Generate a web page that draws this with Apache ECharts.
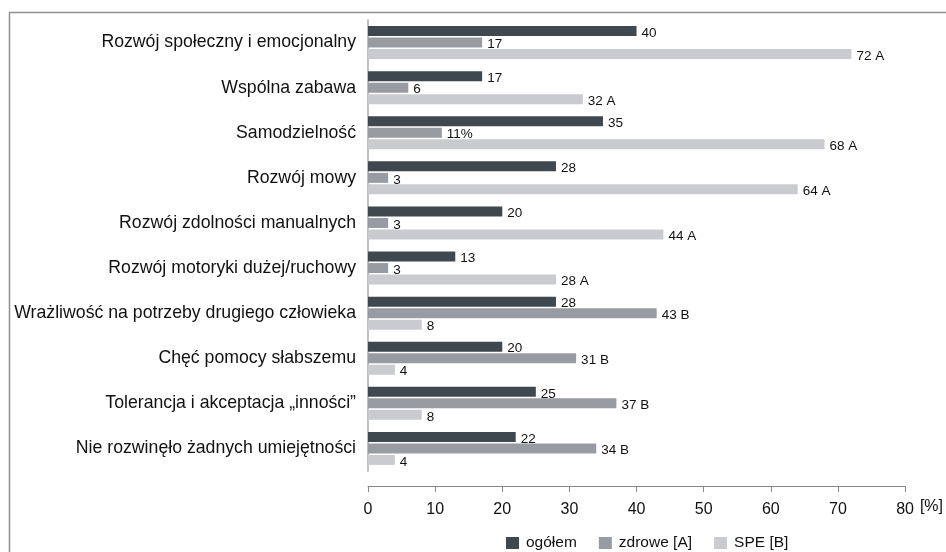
<!DOCTYPE html>
<html>
<head>
<meta charset="utf-8">
<script src="https://cdn.jsdelivr.net/npm/echarts@6/dist/echarts.min.js"></script>
<style>
    html, body { margin: 0; padding: 0; background: #fff; }
    #chart { width: 946px; height: 552px; }
</style>
</head>
<body>
<div id="chart"></div>
<script>
    // dane z wykresu
    const categories = [
        'Rozwój społeczny i emocjonalny',
        'Wspólna zabawa',
        'Samodzielność',
        'Rozwój mowy',
        'Rozwój zdolności manualnych',
        'Rozwój motoryki dużej/ruchowy',
        'Wrażliwość na potrzeby drugiego człowieka',
        'Chęć pomocy słabszemu',
        'Tolerancja i akceptacja „inności”',
        'Nie rozwinęło żadnych umiejętności'
    ];
    const seriesNames = ['ogółem', 'zdrowe [A]', 'SPE [B]'];
    const ogolem = [40, 17, 35, 28, 20, 13, 28, 20, 25, 22];
    const zdrowe = [17, 6, 11, 3, 3, 3, 43, 31, 37, 34];
    const spe = [72, 32, 68, 64, 44, 28, 8, 4, 8, 4];
    const ogolemLabels = ['40', '17', '35', '28', '20', '13', '28', '20', '25', '22'];
    const zdroweLabels = ['17', '6', '11%', '3', '3', '3', '43 B', '31 B', '37 B', '34 B'];
    const speLabels = ['72 A', '32 A', '68 A', '64 A', '44 A', '28 A', '8', '4', '8', '4'];
    const xTicks = [0, 10, 20, 30, 40, 50, 60, 70, 80];

    const font = '"Liberation Sans", Arial, sans-serif';
    const colors = ['#3f484f', '#989ba2', '#cacbcf'];

    function makeSeries(name, data, labels, idx) {
        return {
            name: name,
            type: 'bar',
            data: data,
            barWidth: 10,
            barGap: '15%',
            itemStyle: { color: colors[idx] },
            label: {
                show: true,
                position: 'right',
                distance: 5,
                offset: [0, 2],
                color: '#111',
                fontFamily: font,
                fontSize: 13.5,
                formatter: (p) => labels[p.dataIndex]
            }
        };
    }

    const option = {
        animation: false,
        color: colors,
        graphic: [{
            type: 'rect',
            left: 7,
            top: 10,
            shape: { width: 960, height: 560 },
            style: { fill: 'none', stroke: '#8f8f8f', lineWidth: 1.5 }
        }],
        grid: {
            left: 368,
            right: 39,
            top: 20,
            bottom: 81
        },
        legend: {
            top: 530,
            left: 501,
            itemWidth: 13,
            itemHeight: 12,
            itemGap: 22,
            icon: 'rect',
            textStyle: { fontFamily: font, fontSize: 15.5, color: '#111', padding: [0, 0, 0, 2] },
            data: seriesNames
        },
        xAxis: {
            type: 'value',
            min: 0,
            max: 80,
            interval: 10,
            offset: 15,
            name: '[%]',
            nameLocation: 'end',
            nameGap: 12,
            nameTextStyle: {
                fontFamily: font, fontSize: 16, color: '#111',
                verticalAlign: 'top', padding: [13, 0, 0, 0]
            },
            splitLine: { show: false },
            axisLine: { show: true, lineStyle: { color: '#8a8a8a', width: 1 } },
            axisTick: { show: true, length: 6, lineStyle: { color: '#8a8a8a' } },
            axisLabel: {
                margin: 16,
                fontFamily: font,
                fontSize: 16,
                color: '#111',
                formatter: (v) => xTicks.includes(v) ? String(v) : ''
            }
        },
        yAxis: {
            type: 'category',
            data: categories,
            inverse: true,
            axisLine: { show: true, lineStyle: { color: '#c2c2c2', width: 2 } },
            axisTick: { show: false },
            axisLabel: {
                margin: 12,
                fontFamily: font,
                fontSize: 17.7,
                color: '#111'
            }
        },
        series: [
            makeSeries(seriesNames[0], ogolem, ogolemLabels, 0),
            makeSeries(seriesNames[1], zdrowe, zdroweLabels, 1),
            makeSeries(seriesNames[2], spe, speLabels, 2)
        ]
    };

    const myChart = echarts.init(document.getElementById('chart'));
    myChart.setOption(option);
</script>
</body>
</html>
